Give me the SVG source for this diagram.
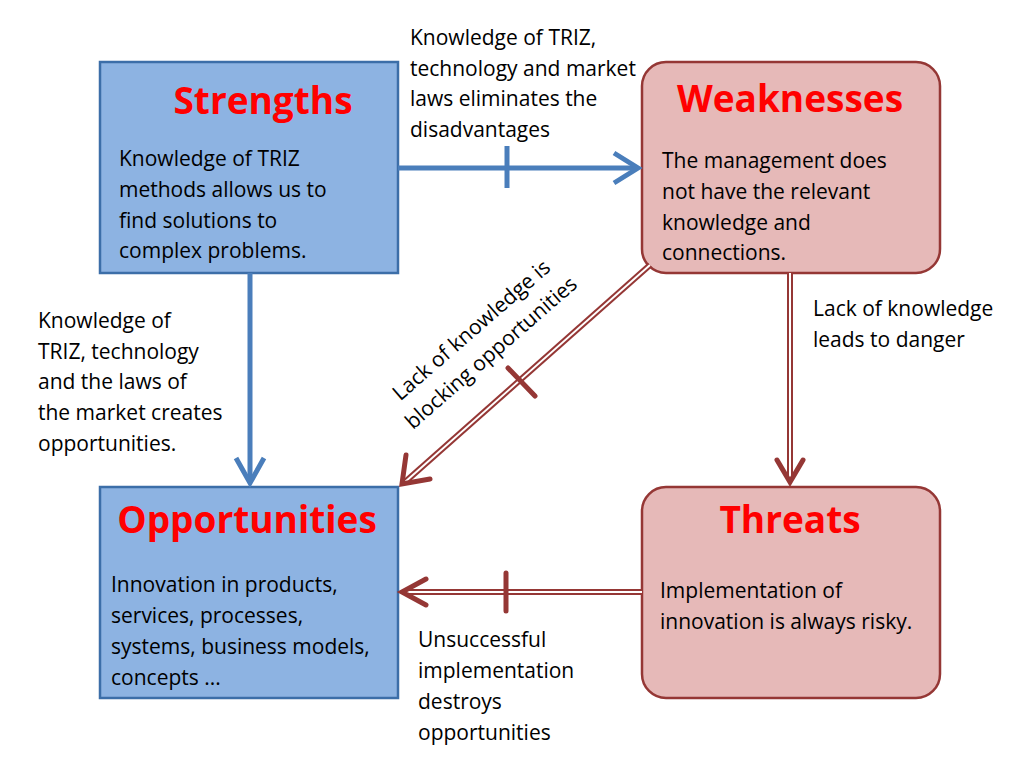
<svg xmlns="http://www.w3.org/2000/svg" width="1024" height="768" viewBox="0 0 1024 768">
<style>
text{font-family:"Open Sans","Liberation Sans",sans-serif;font-size:21px;fill:#000}
.t{font-size:37px;font-weight:bold;fill:#ff0000;text-anchor:middle}
.b{fill:#8db3e2;stroke:#3c6ea8;stroke-width:2.5}
.p{fill:#e6b9b8;stroke:#953735;stroke-width:2.5}
.ba{stroke:#4a7ebb;stroke-width:5;fill:none}
.ro{stroke:#953735;stroke-width:6;fill:none}
.ri{stroke:#fff;stroke-width:2;fill:none}
.rh{stroke:#953735;stroke-width:5;fill:none;stroke-linecap:round}
</style>
<g id="strengths"><rect class="b" x="100" y="62" width="298" height="211"/>
<text class="t" x="263" y="114">Strengths</text>
<text x="119" y="166">Knowledge of TRIZ</text><text x="119" y="197">methods allows  us to</text><text x="119" y="228">find solutions to</text><text x="119" y="258">complex problems.</text></g>
<g id="weaknesses"><rect class="p" x="642" y="62" width="298" height="211" rx="24"/>
<text class="t" x="790" y="112">Weaknesses</text>
<text x="662" y="168">The management does</text><text x="662" y="199">not have the relevant</text><text x="662" y="230">knowledge and</text><text x="662" y="260">connections.</text></g>
<g id="opportunities"><rect class="b" x="100" y="487" width="298" height="211"/>
<text class="t" x="247" y="533">Opportunities</text>
<text x="111" y="592">Innovation in products,</text><text x="111" y="623">services, processes,</text><text x="111" y="654">systems, business models,</text><text x="111" y="685">concepts ...</text></g>
<g id="threats"><rect class="p" x="642" y="487" width="298" height="211" rx="24"/>
<text class="t" x="790" y="533">Threats</text>
<text x="660" y="598">Implementation of</text><text x="660" y="629">innovation is always risky.</text></g>
<g id="connectors">
<line class="ba" x1="398" y1="168" x2="636" y2="168"/>
<path class="ba" d="M614,153 L638,168 L614,183"/>
<line class="ba" x1="507" y1="146" x2="507" y2="188"/>
<line class="ba" x1="250" y1="273" x2="250" y2="482"/>
<path class="ba" d="M236,458 L250,483 L264,458"/>
<line class="ro" x1="650" y1="265" x2="405" y2="482"/>
<line class="ri" x1="650" y1="265" x2="405" y2="482"/>
<path class="rh" d="M406,455 L402,484 L430,479"/>
<line class="rh" x1="508" y1="368" x2="535" y2="396"/>
<line class="ro" x1="790" y1="273" x2="790" y2="482"/>
<line class="ri" x1="790" y1="273" x2="790" y2="480"/>
<path class="rh" d="M777,460 L790,482 L803,460"/>
<line class="ro" x1="642" y1="592" x2="403" y2="592"/>
<line class="ri" x1="642" y1="592" x2="405" y2="592"/>
<path class="rh" d="M426,579 L402,592 L426,605"/>
<line class="rh" x1="506" y1="573" x2="506" y2="611"/>
</g>
<text x="410" y="45">Knowledge of TRIZ,</text><text x="410" y="76">technology and market</text><text x="410" y="106">laws eliminates the</text><text x="410" y="137">disadvantages</text>
<text x="38" y="328">Knowledge of</text><text x="38" y="359">TRIZ, technology</text><text x="38" y="389">and the laws of</text><text x="38" y="420">the market creates</text><text x="38" y="451">opportunities.</text>
<text x="813" y="316">Lack of knowledge</text><text x="813" y="347">leads to danger</text>
<text x="418" y="647">Unsuccessful</text><text x="418" y="678">implementation</text><text x="418" y="709">destroys</text><text x="418" y="740">opportunities</text>
<g transform="translate(480,340) rotate(-41)"><text text-anchor="middle" x="0" y="-6">Lack of knowledge is</text><text text-anchor="middle" x="0" y="24">blocking opportunities</text></g>
</svg>
